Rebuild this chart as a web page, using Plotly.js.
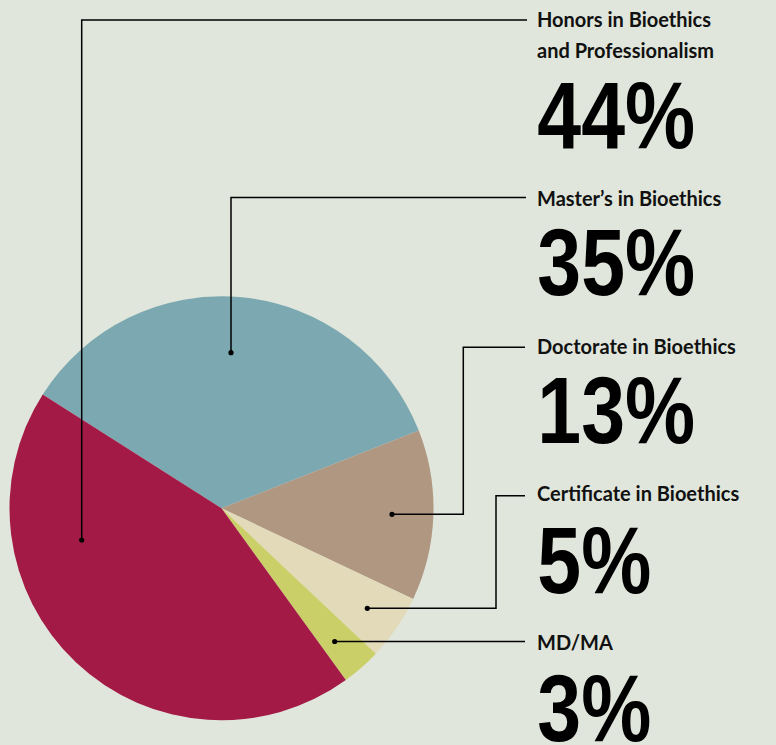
<!DOCTYPE html>
<html>
<head>
<meta charset="utf-8">
<script src="https://cdn.plot.ly/plotly-3.0.1.min.js"></script>
<style>
  html, body { margin: 0; padding: 0; background: #e0e6db; }
  #chart { width: 776px; height: 745px; }
</style>
</head>
<body>
<div id="chart"></div>
<script>
// ---- data ----
var labels = ["Master\u2019s in Bioethics", "Doctorate in Bioethics", "Certificate in Bioethics", "MD/MA", "Honors in Bioethics and Professionalism"];
var values = [35, 13, 5, 3, 44];
var colors = ["#7ca8b1", "#b09782", "#e3dab9", "#cbcf68", "#a31a47"];
var headingLines = [["Master\u2019s in Bioethics"], ["Doctorate in Bioethics"], ["Certificate in Bioethics"], ["MD/MA"], ["Honors in Bioethics", "and Professionalism"]];

// ---- layout helpers (pixel -> paper) ----
var W = 776, H = 745;
function px(x) { return x / W; }
function py(y) { return 1 - y / H; }

// leader-line geometry (pixels): dot, path points; heading baselines; number baselines
var leaders = [
  { pts: [[231, 352.7], [231, 197.5], [526, 197.5]], head: [205.7], num: 295 },
  { pts: [[392, 514.3], [463.3, 514.3], [463.3, 347.3], [525, 347.3]], head: [353.3], num: 443 },
  { pts: [[367.3, 608.3], [496, 608.3], [496, 495.7], [525, 495.7]], head: [500.7], num: 593 },
  { pts: [[334.7, 641.5], [525, 641.5]], head: [650], num: 741 },
  { pts: [[81.7, 540], [81.7, 20], [527, 20]], head: [27, 57.5], num: 148 }
];

var shapes = [], annotations = [], numberAnn = {};
var textX = 535;
var headSize = 20, numSize = 95, squeeze = 0.83;
leaders.forEach(function (L, i) {
  var d = L.pts.map(function (p, k) { return (k ? "L" : "M") + px(p[0]) + "," + py(p[1]); }).join(" ");
  shapes.push({ type: "path", xref: "paper", yref: "paper", path: d, line: { color: "#000", width: 1.5 } });
  var r = 2.6, dx = L.pts[0][0], dy = L.pts[0][1];
  shapes.push({ type: "circle", xref: "paper", yref: "paper",
    x0: px(dx - r), x1: px(dx + r), y0: py(dy + r), y1: py(dy - r),
    fillcolor: "#000", line: { width: 0 } });
  headingLines[i].forEach(function (t, k) {
    annotations.push({ xref: "paper", yref: "paper", x: px(textX), y: py(L.head[k] - 0.387 * headSize),
      xanchor: "left", yanchor: "middle", showarrow: false, text: t,
      font: { family: "Lato, 'Open Sans', sans-serif", size: headSize, weight: 700, color: "#111" } });
  });
  numberAnn[annotations.length] = true;
  annotations.push({ xref: "paper", yref: "paper", x: px(textX), y: py(L.num - 0.3465 * numSize),
    xanchor: "left", yanchor: "middle", showarrow: false, text: values[i] + "%",
    font: { family: "'Liberation Sans', Arial, sans-serif", size: numSize, weight: 700, color: "#000" } });
});

var trace = {
  type: "pie",
  labels: labels,
  values: values,
  sort: false,
  direction: "clockwise",
  rotation: -57.5,
  marker: { colors: colors, line: { width: 0 } },
  textinfo: "none",
  hoverinfo: "label+percent",
  showlegend: false,
  domain: { x: [px(9.5), px(433.5)], y: [py(720.3), py(296.3)] }
};

var layout = {
  width: W, height: H,
  margin: { l: 0, r: 0, t: 0, b: 0 },
  paper_bgcolor: "#e0e6db",
  plot_bgcolor: "#e0e6db",
  showlegend: false,
  shapes: shapes,
  annotations: annotations
};

// condense the big percentage numbers horizontally (condensed-heavy look)
function condense(gd) {
  gd.querySelectorAll("g.annotation").forEach(function (g) {
    var idx = +g.getAttribute("data-index");
    if (!numberAnn[idx]) return;
    var t = g.querySelector("text.annotation-text");
    if (!t) return;
    t.removeAttribute("transform");
    var bb = t.getBBox();
    var x0 = bb.x + 2;
    t.setAttribute("transform", "translate(" + x0 + ",0) scale(" + squeeze + ",1) translate(" + (-x0) + ",0)");
  });
}

Plotly.newPlot("chart", [trace], layout, { displayModeBar: false, staticPlot: true }).then(function (gd) {
  condense(gd);
  gd.on("plotly_afterplot", function () { condense(gd); });
});
</script>
</body>
</html>
